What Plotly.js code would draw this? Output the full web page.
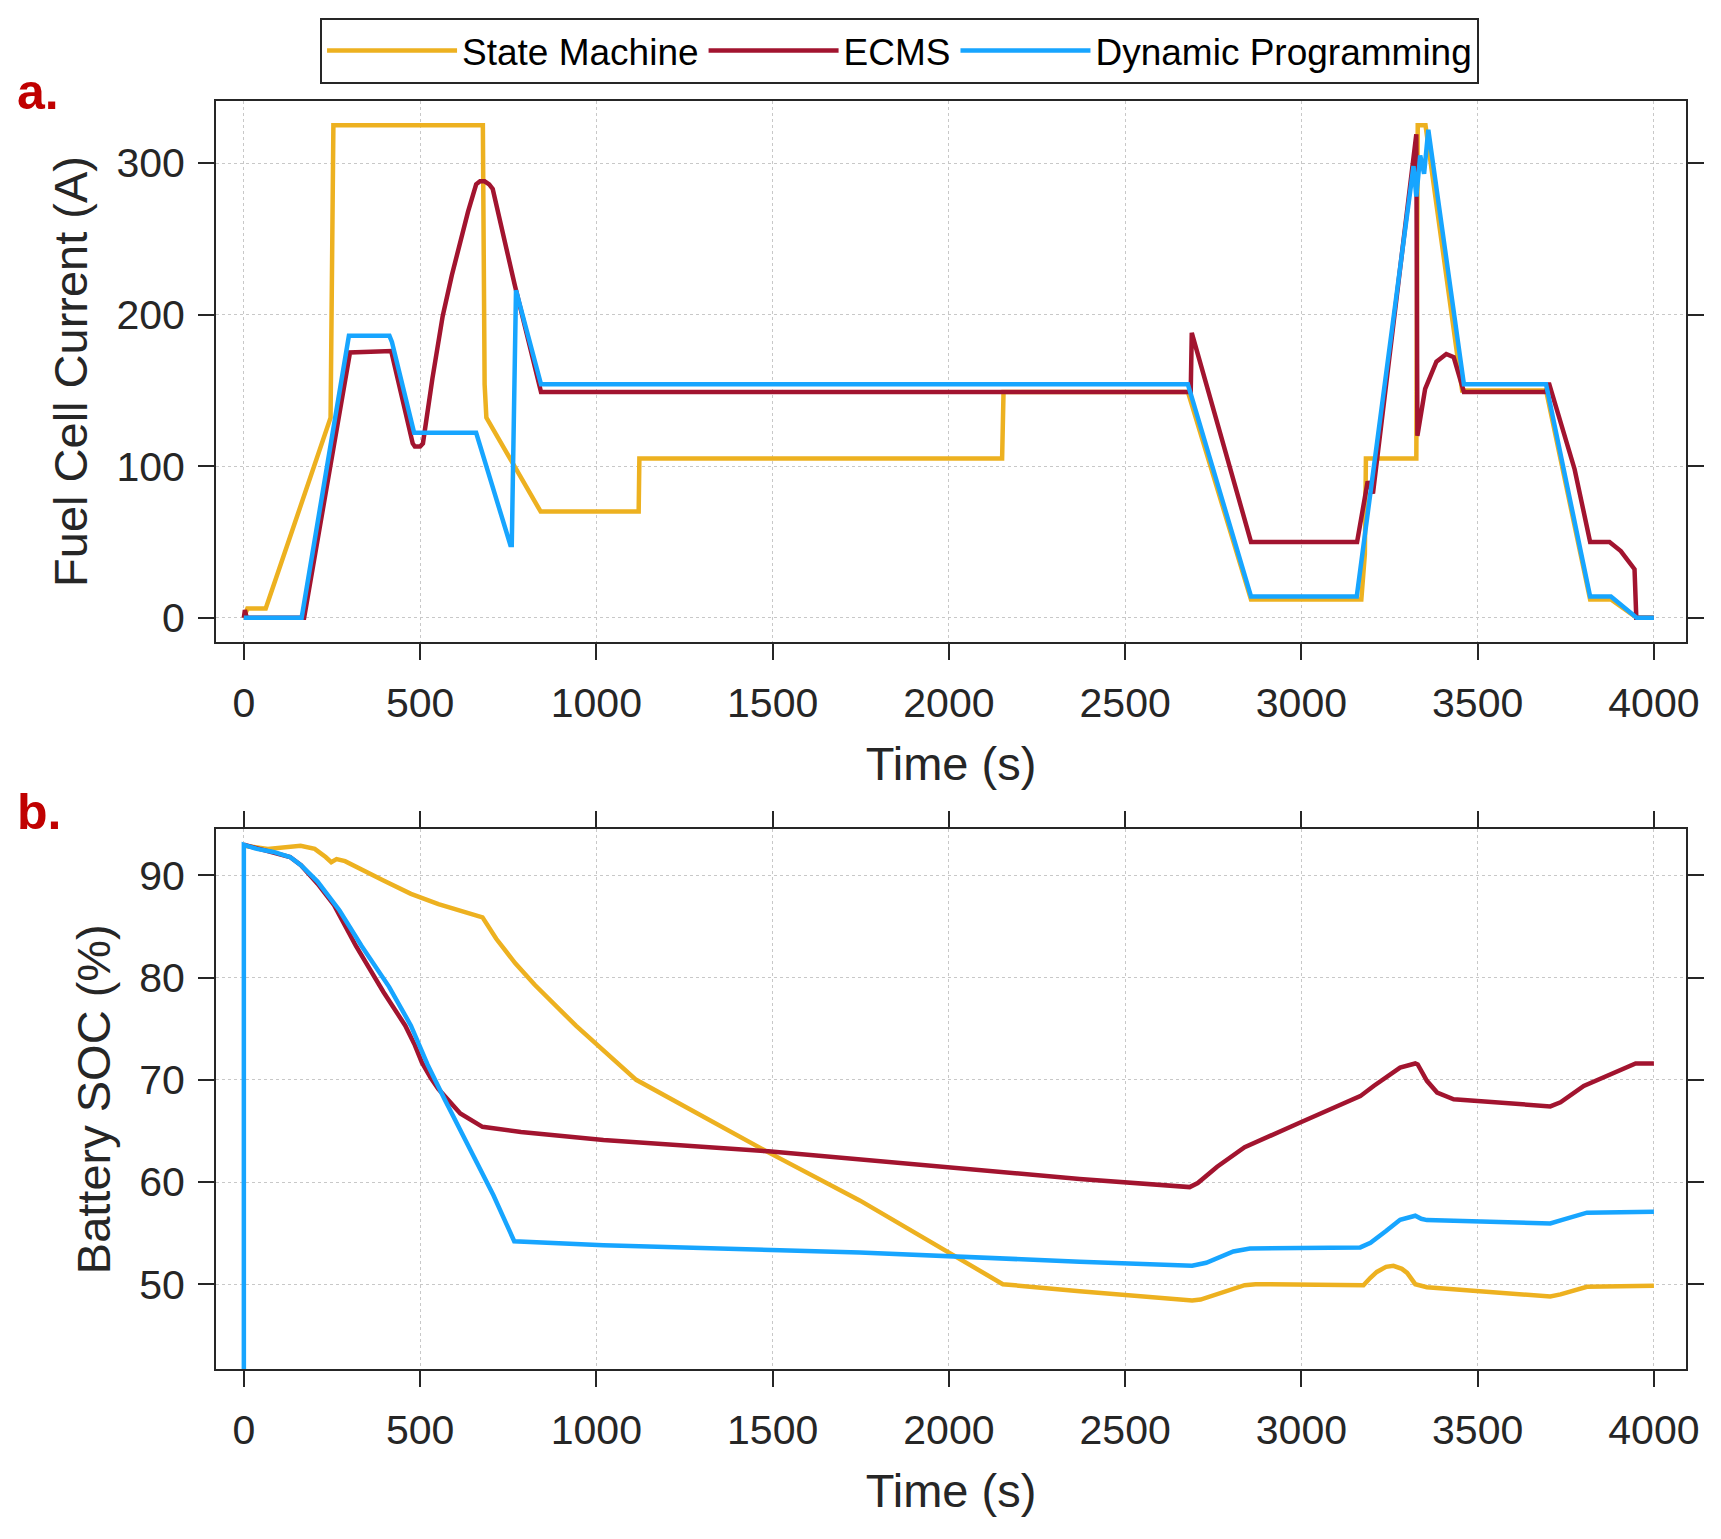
<!DOCTYPE html>
<html>
<head>
<meta charset="utf-8">
<script src="https://cdn.plot.ly/plotly-3.0.1.min.js"></script>
<style>
  body { margin: 0; background: #fff; }
  #chart { width: 1721px; height: 1539px; }
</style>
</head>
<body>
<div id="chart"></div>
<script>
// ---- panel a: fuel cell current (A) ----
var smTimeA = [0, 10, 62, 246, 254, 678, 683, 688, 842, 1120, 1122, 2151, 2155, 2678, 2857, 3170, 3180, 3183, 3326, 3330, 3352, 3456, 3694, 3819, 3878, 3951, 4000];
var smCurrent = [0, 6, 6, 132, 325, 325, 154, 132, 70, 70, 105, 105, 149, 149, 12, 12, 42, 105, 105, 325, 325, 150, 150, 12, 12, 0, 0];

var ecTimeA = [0, 3, 8, 171, 301, 418, 479, 485, 500, 508, 535, 564, 590, 612, 636, 659, 670, 683, 696, 706, 769, 843, 2686, 2689, 2857, 3158, 3188, 3203, 3326, 3329, 3351, 3383, 3411, 3432, 3461, 3694, 3702, 3775, 3819, 3874, 3906, 3945, 3950, 4000];
var ecCurrent = [0, 5, 0, 0, 175, 176, 115, 113, 113, 115, 158, 199, 226, 247, 268, 286, 288, 288, 286, 283, 219, 149, 149, 188, 50, 50, 90, 82, 319, 120, 151, 169, 174, 172, 149, 149, 155, 98, 50, 50, 44, 32, 0, 0];

var dpTimeA = [0, 164, 298, 413, 420, 483, 659, 675, 756, 760, 772, 843, 2678, 2857, 3157, 3318, 3326, 3337, 3348, 3360, 3461, 3694, 3819, 3878, 3951, 4000];
var dpCurrent = [0, 0, 186, 186, 182, 122, 122, 110, 48, 48, 216, 154, 154, 14, 14, 298, 278, 305, 293, 322, 154, 154, 14, 14, 0, 0];

// ---- panel b: battery SOC (%) ----
var smTimeB = [0, 68, 161, 201, 232, 248, 263, 287, 396, 474, 552, 677, 716, 770, 825, 942, 1113, 1332, 1488, 1747, 1997, 2153, 2371, 2690, 2714, 2776, 2839, 2870, 3176, 3195, 3214, 3240, 3261, 3285, 3300, 3323, 3356, 3706, 3735, 3810, 4000];
var smSoc = [92.9, 92.6, 92.9, 92.6, 91.8, 91.3, 91.6, 91.4, 89.5, 88.2, 87.2, 85.9, 83.8, 81.4, 79.3, 75.3, 70.0, 65.8, 62.9, 58.2, 53.2, 50.0, 49.3, 48.4, 48.5, 49.2, 49.9, 50.0, 49.9, 50.6, 51.2, 51.7, 51.8, 51.5, 51.1, 50.0, 49.7, 48.8, 49.0, 49.75, 49.85];

var ecTimeB = [0, 84, 131, 162, 209, 256, 318, 396, 458, 485, 505, 530, 552, 614, 677, 786, 1020, 1488, 1747, 1997, 2371, 2683, 2706, 2761, 2839, 2995, 3167, 3205, 3280, 3323, 3330, 3356, 3385, 3432, 3706, 3735, 3801, 3948, 4000];
var ecSoc = [93.0, 92.3, 91.8, 91.0, 89.2, 87.1, 83.1, 78.6, 75.3, 73.4, 71.7, 70.2, 69.1, 66.7, 65.4, 64.9, 64.1, 63.0, 62.2, 61.5, 60.3, 59.5, 59.9, 61.5, 63.4, 65.8, 68.4, 69.4, 71.2, 71.6, 71.5, 69.9, 68.75, 68.1, 67.4, 67.8, 69.4, 71.6, 71.6];

var dpTimeB = [0, 0, 37, 84, 131, 162, 209, 271, 334, 412, 474, 521, 568, 630, 708, 767, 1020, 1747, 1997, 2371, 2690, 2730, 2807, 2854, 3167, 3196, 3240, 3280, 3323, 3340, 3356, 3470, 3706, 3740, 3810, 4000];
var dpSoc = [40, 93.0, 92.6, 92.3, 91.8, 91.0, 89.4, 86.6, 83.1, 79.1, 75.3, 71.5, 68.2, 63.9, 58.7, 54.2, 53.8, 53.1, 52.7, 52.2, 51.8, 52.1, 53.2, 53.5, 53.6, 54.05, 55.2, 56.3, 56.7, 56.4, 56.27, 56.2, 55.95, 56.3, 57.0, 57.1];

var names = ['State Machine', 'ECMS', 'Dynamic Programming'];
var colors = ['#EDB120', '#A2142F', '#17A5FF'];
var timeTicks = [0, 500, 1000, 1500, 2000, 2500, 3000, 3500, 4000];

var ink = '#262626';
var fontFam = '"Liberation Sans", Arial, sans-serif';

function line(x, y, k, xa, ya, show) {
  return {
    x: x, y: y, xaxis: xa, yaxis: ya,
    type: 'scatter', mode: 'lines',
    name: names[k], showlegend: show,
    line: {color: colors[k], width: 4.5}
  };
}

var data = [
  line(smTimeA, smCurrent, 0, 'x', 'y', true),
  line(ecTimeA, ecCurrent, 1, 'x', 'y', true),
  line(dpTimeA, dpCurrent, 2, 'x', 'y', true),
  line(smTimeB, smSoc, 0, 'x2', 'y2', false),
  line(ecTimeB, ecSoc, 1, 'x2', 'y2', false),
  line(dpTimeB, dpSoc, 2, 'x2', 'y2', false)
];

function axisBase() {
  return {
    showline: true, linecolor: ink, linewidth: 2,
    ticks: 'outside', ticklen: 16, tickwidth: 2, tickcolor: ink,
    showgrid: true, gridcolor: '#c8c8c8', gridwidth: 1.3, griddash: 'dot',
    zeroline: false,
    tickfont: {family: fontFam, size: 41, color: ink}
  };
}

var xa = axisBase();
xa.anchor = 'y'; xa.range = [-79, 4091]; xa.tickvals = timeTicks;
xa.mirror = true; xa.ticklabelstandoff = 8;
xa.title = {text: 'Time (s)', font: {family: fontFam, size: 47, color: ink}, standoff: 22};

var ya = axisBase();
ya.anchor = 'x'; ya.domain = [0.5734, 1]; ya.range = [-16, 341];
ya.tickvals = [0, 100, 200, 300]; ya.mirror = 'ticks'; ya.ticklabelstandoff = 5;
ya.title = {text: 'Fuel Cell Current (A)', font: {family: fontFam, size: 47, color: ink}, standoff: 14};

var xb = axisBase();
xb.anchor = 'y2'; xb.range = [-79, 4091]; xb.tickvals = timeTicks;
xb.mirror = 'ticks'; xb.ticklabelstandoff = 8;
xb.title = {text: 'Time (s)', font: {family: fontFam, size: 47, color: ink}, standoff: 22};

var yb = axisBase();
yb.anchor = 'x2'; yb.domain = [0, 0.4255]; yb.range = [41.7, 94.5];
yb.tickvals = [50, 60, 70, 80, 90]; yb.mirror = 'ticks'; yb.ticklabelstandoff = 5;
yb.title = {text: 'Battery SOC (%)', font: {family: fontFam, size: 47, color: ink}, standoff: 14};

var layout = {
  width: 1721, height: 1539,
  margin: {l: 216, r: 35, t: 101, b: 170},
  paper_bgcolor: '#fff', plot_bgcolor: '#fff',
  font: {family: fontFam, color: ink},
  xaxis: xa, yaxis: ya, xaxis2: xb, yaxis2: yb,
  showlegend: true,
  legend: {
    orientation: 'h', x: 0.465, xanchor: 'center', y: 1.0655, yanchor: 'top',
    bordercolor: ink, borderwidth: 2, bgcolor: '#fff',
    font: {family: fontFam, size: 37, color: '#000'},
    itemwidth: 130
  },
  annotations: [
    {text: '<b>a.</b>', xref: 'paper', yref: 'paper', x: -0.137, y: 1.007,
     xanchor: 'left', yanchor: 'middle', showarrow: false,
     font: {family: fontFam, size: 50, color: '#C00000'}},
    {text: '<b>b.</b>', xref: 'paper', yref: 'paper', x: -0.137, y: 0.4393,
     xanchor: 'left', yanchor: 'middle', showarrow: false,
     font: {family: fontFam, size: 50, color: '#C00000'}}
  ]
};

Plotly.newPlot('chart', data, layout, {displayModeBar: false});
</script>
</body>
</html>
